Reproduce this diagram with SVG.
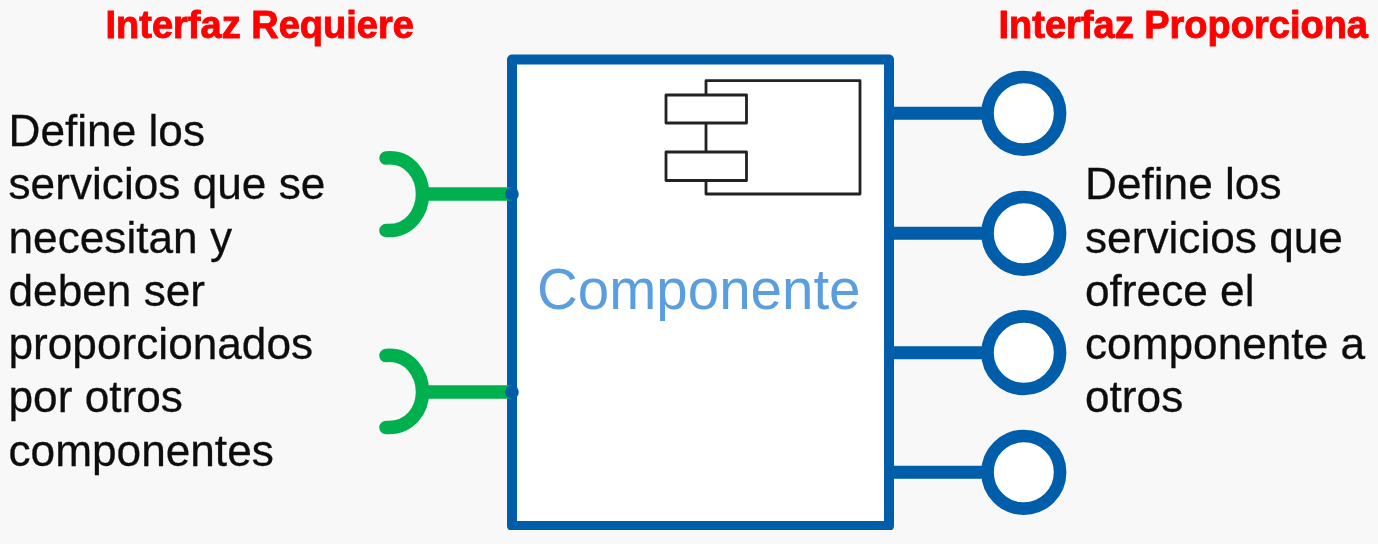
<svg xmlns="http://www.w3.org/2000/svg" width="1378" height="544" viewBox="0 0 1378 544">
  <defs>
    <filter id="soft" x="0" y="0" width="1378" height="544" filterUnits="userSpaceOnUse"><feGaussianBlur stdDeviation="0.75"/></filter>
    <clipPath id="crop"><rect x="0" y="0" width="1378" height="530"/></clipPath>
  </defs>
  <style>
    text { font-family: "Liberation Sans", Arial, sans-serif; }
    .body { font-size: 44.2px; fill: #111111; stroke: #111111; stroke-width: 0.3; }
    .title { font-size: 38px; font-weight: bold; fill: #ff0000; stroke: #ff0000; stroke-width: 0.9; }
    .name { font-size: 56.5px; fill: #5a9ee0; }
    .box { fill: #ffffff; stroke: #005daa; stroke-width: 10; stroke-linejoin: round; }
    .icon { fill: #ffffff; stroke: #222222; stroke-width: 2.8; stroke-linejoin: round; }
    .req { fill: none; stroke: #00b050; stroke-width: 13.5; stroke-linecap: round; }
    .prov { stroke: #005daa; stroke-width: 13; fill: none; }
    .lollipop { fill: #ffffff; stroke: #005daa; stroke-width: 12.6; }
  </style>
  <rect width="1378" height="544" fill="#f8f8f8"/>
  <g filter="url(#soft)">
    <g id="componente" clip-path="url(#crop)">
      <rect class="box" x="512" y="59.500" width="377" height="466.500"/>
    </g>
    <g id="icono">
      <rect class="icon" x="706" y="80.700" width="154" height="113.300"/>
      <rect class="icon" x="666" y="95" width="80.500" height="28"/>
      <rect class="icon" x="666" y="152" width="80.500" height="28.500"/>
    </g>
    <text class="name" x="537" y="309">Componente</text>
    <g id="connectors">
      <line class="req" style="stroke-linecap:butt" x1="424" y1="194" x2="512" y2="194"/>
      <line class="req" style="stroke-linecap:butt" x1="424" y1="392" x2="512" y2="392"/>
      <circle cx="512" cy="194" r="6.800" fill="#005daa"/>
      <circle cx="512" cy="392" r="6.800" fill="#005daa"/>
      <line class="prov" x1="889" y1="113.300" x2="990" y2="113.300"/>
      <line class="prov" x1="889" y1="233.300" x2="990" y2="233.300"/>
      <line class="prov" x1="889" y1="352.700" x2="990" y2="352.700"/>
      <line class="prov" x1="889" y1="472.300" x2="990" y2="472.300"/>
    </g>
    <g id="requiere-1"><path class="req" d="M386 158 C410 156 422.500 176 422.500 194 C422.500 212 410 232 386 230.500"/></g>
    <g id="requiere-2"><path class="req" d="M386 355.500 C410 353.500 422.500 374 422.500 392 C422.500 410 410 429 386 427.500"/></g>
    <g id="proporciona-1"><circle class="lollipop" cx="1023.800" cy="113.300" r="36.300"/></g>
    <g id="proporciona-2"><circle class="lollipop" cx="1023.800" cy="233.300" r="36.300"/></g>
    <g id="proporciona-3"><circle class="lollipop" cx="1023.800" cy="352.700" r="36.300"/></g>
    <g id="proporciona-4"><circle class="lollipop" cx="1023.800" cy="472.300" r="36.300"/></g>
    <text class="title" x="105.500" y="38">Interfaz Requiere</text>
    <text class="title" x="998.500" y="38">Interfaz Proporciona</text>
    <text class="body" x="8.500" y="146">Define los</text>
    <text class="body" x="8.500" y="199.300">servicios que se</text>
    <text class="body" x="8.500" y="252.500">necesitan y</text>
    <text class="body" x="8.500" y="305.800">deben ser</text>
    <text class="body" x="8.500" y="359">proporcionados</text>
    <text class="body" x="8.500" y="412.300">por otros</text>
    <text class="body" x="8.500" y="465.500">componentes</text>
    <text class="body" x="1085" y="199.300">Define los</text>
    <text class="body" x="1085" y="252.500">servicios que</text>
    <text class="body" x="1085" y="305.800">ofrece el</text>
    <text class="body" x="1085" y="359">componente a</text>
    <text class="body" x="1085" y="412.300">otros</text>
  </g>
</svg>
